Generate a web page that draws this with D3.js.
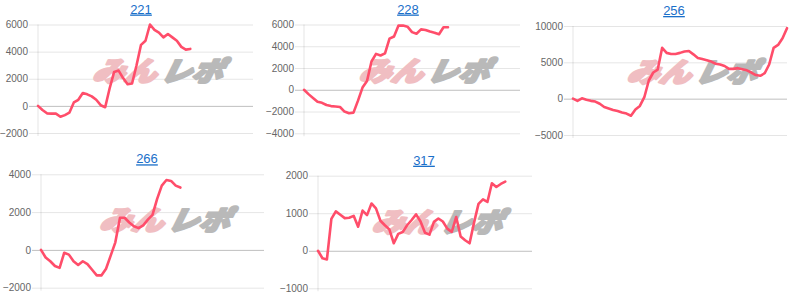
<!DOCTYPE html>
<html>
<head>
<meta charset="utf-8">
<script src="https://cdn.jsdelivr.net/npm/d3@7"></script>
<style>
  body { margin: 0; background: #fff; }
  svg { display: block; }
  .tick-label { font-family: "Liberation Sans", Arial, sans-serif; font-size: 10px; fill: #666; }
  .title { font-family: "Liberation Sans", Arial, sans-serif; font-size: 13px; fill: #1a6fc9; text-decoration: underline; }
  .mark { font-family: "Noto Sans CJK JP", sans-serif; font-weight: 900; font-style: italic; }
</style>
</head>
<body>
<script>
// ---- data ----
  var titles = ["221", "228", "256", "266", "317"];
  var pointCount = 49; // shared x labels (days)

  var s221 = [0,-300,-550,-570,-570,-800,-680,-500,250,450,950,850,700,450,50,-100,1300,2500,2600,2050,1600,1650,3000,4500,4800,6000,5600,5400,5050,5300,5050,4800,4350,4150,4200];
  var s228 = [0,-400,-750,-1100,-1200,-1400,-1500,-1530,-1580,-2000,-2150,-2100,-1000,200,800,2600,3300,3150,3350,4700,4900,5900,5900,5800,5300,5150,5550,5500,5350,5250,5100,5750,5750];
  var s256 = [0,-300,50,-150,-300,-400,-700,-1150,-1350,-1550,-1700,-1900,-2050,-2350,-1500,-1000,200,2500,3600,4000,7000,6300,6150,6150,6300,6500,6550,6100,5600,5450,5300,5100,4800,4700,4500,4100,4100,4200,4050,3900,3600,3250,3150,3500,4700,7000,7400,8300,9700];
  var s266 = [0,-400,-600,-850,-950,-150,-250,-600,-800,-600,-750,-1050,-1350,-1350,-1000,-300,400,1700,1700,1450,1250,1150,1300,1600,1850,2700,3400,3700,3650,3400,3300];
  var s317 = [0,-200,-230,850,1050,960,870,880,930,640,1070,950,1260,1130,800,680,570,200,450,500,680,820,970,780,480,430,770,860,780,590,500,900,380,280,200,750,1250,1370,1300,1800,1700,1780,1840];
  var seriesList = [s221, s228, s256, s266, s317];

  var ticks221 = [-2000, 0, 2000, 4000, 6000];
  var ticks228 = [-4000, -2000, 0, 2000, 4000, 6000];
  var ticks256 = [-5000, 0, 5000, 10000];
  var ticks266 = [-2000, 0, 2000, 4000];
  var ticks317 = [-1000, 0, 1000, 2000];
  var tickList = [ticks221, ticks228, ticks256, ticks266, ticks317];
// --------------

// ---- layout ----
  var width = 800, height = 301;
  var boxes = [
    {left: 38,  right: 253, top: 24.5, bottom: 133, titleX: 141},
    {left: 304, right: 520, top: 24.5, bottom: 133.3, titleX: 408},
    {left: 573, right: 787, top: 26,   bottom: 135, titleX: 674},
    {left: 41,  right: 264, top: 174.3, bottom: 287.7, titleX: 147},
    {left: 318, right: 532, top: 175.7, bottom: 288.3, titleX: 424}
  ];
  var lineColor = "rgb(255,77,106)";
  var tickLen = 9;

  var svg = d3.select("body").append("svg")
    .attr("width", width)
    .attr("height", height);

  boxes.forEach(function(b, k) {
    var data = seriesList[k];
    var ticks = tickList[k];
    var g = svg.append("g");

    var x = d3.scaleLinear()
      .domain([0, pointCount - 1])
      .range([b.left, b.right]);
    var y = d3.scaleLinear()
      .domain(d3.extent(ticks))
      .range([b.bottom, b.top]);

    // title link
    g.append("text")
      .attr("class", "title")
      .attr("x", b.titleX)
      .attr("y", b.top - 11)
      .attr("text-anchor", "middle")
      .text(titles[k]);

    // grid + y axis
    var yAxis = d3.axisLeft(y)
      .tickValues(ticks)
      .tickSize(-(b.right - b.left) - tickLen)
      .tickPadding(1)
      .tickFormat(d3.format("d"));

    var ax = g.append("g")
      .attr("transform", "translate(" + (b.left - tickLen) + ",0)")
      .call(yAxis);
    ax.select(".domain").remove();
    ax.selectAll(".tick line")
      .attr("stroke", function(d) { return d === 0 ? "rgba(0,0,0,0.25)" : "rgba(0,0,0,0.1)"; })
      .attr("x1", 0)
      .attr("x2", (b.right - b.left) + tickLen);
    ax.selectAll(".tick text")
      .attr("class", "tick-label")
      .attr("fill", null)
      .attr("font-size", null)
      .attr("font-family", null);

    // vertical axis line
    g.append("line")
      .attr("x1", b.left).attr("x2", b.left)
      .attr("y1", b.top).attr("y2", b.bottom + 3)
      .attr("stroke", "rgba(0,0,0,0.1)");

    // watermark
    var cx = (b.left + b.right) / 2 + 10;
    var cy = b.top + 56;
    var wm = g.append("g")
      .attr("transform", "translate(" + cx + "," + cy + ") skewX(-12)");
    wm.append("text")
      .attr("class", "mark")
      .attr("x", -64).attr("y", 0)
      .attr("font-size", 27)
      .attr("textLength", 64)
      .attr("lengthAdjust", "spacingAndGlyphs")
      .attr("fill", "rgb(240,190,194)")
      .attr("stroke", "rgb(240,190,194)")
      .attr("stroke-width", 2.4)
      .attr("stroke-linejoin", "round")
      .text("みん");
    wm.append("text")
      .attr("class", "mark")
      .attr("x", 4).attr("y", 0)
      .attr("font-size", 27)
      .attr("textLength", 62)
      .attr("lengthAdjust", "spacingAndGlyphs")
      .attr("fill", "rgb(185,185,185)")
      .attr("stroke", "rgb(185,185,185)")
      .attr("stroke-width", 2.4)
      .attr("stroke-linejoin", "round")
      .text("レポ");

    // line
    var line = d3.line()
      .x(function(d, i) { return x(i); })
      .y(function(d) { return y(d); });

    g.append("path")
      .datum(data)
      .attr("d", line)
      .attr("fill", "none")
      .attr("stroke", lineColor)
      .attr("stroke-width", 2.6)
      .attr("stroke-linejoin", "round")
      .attr("stroke-linecap", "round");
  });
</script>
</body>
</html>
